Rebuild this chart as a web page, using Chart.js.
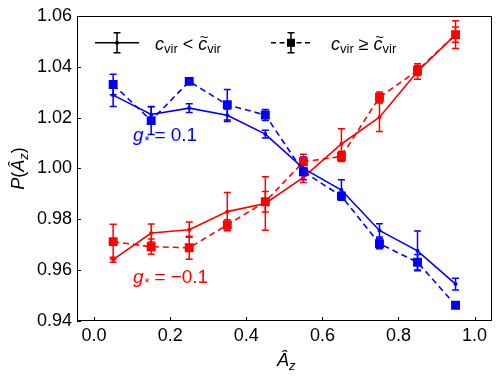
<!DOCTYPE html>
<html>
<head>
<meta charset="utf-8">
<script src="https://cdn.jsdelivr.net/npm/chart.js@4.4.0/dist/chart.umd.min.js"></script>
<style>
  html, body { margin: 0; padding: 0; background: #fff; }
  #wrap { position: relative; width: 498px; height: 376px; }
</style>
</head>
<body>
<div id="wrap"><canvas id="chart"></canvas></div>
<script>
'use strict';

/* Data — P(Az) in bins of Az, for g* = +0.1 (blue) and g* = -0.1 (red) */
const azBins = [0.05, 0.15, 0.25, 0.35, 0.45, 0.55, 0.65, 0.75, 0.85, 0.95];
const xTicks = [0.0, 0.2, 0.4, 0.6, 0.8, 1.0];
const yTicks = [0.94, 0.96, 0.98, 1.00, 1.02, 1.04, 1.06];

// g* = 0.1, c_vir < median
const posLow     = [1.0288, 1.0212, 1.0237, 1.0209, 1.0135, 1.0000, 0.9915, 0.9756, 0.9676, 0.9545];
const posLowErr  = [0.0045, 0.0030, 0.0017, 0.0025, 0.0015, 0.0045, 0.0040, 0.0026, 0.0078, 0.0023];
// g* = 0.1, c_vir >= median
const posHigh    = [1.0330, 1.0188, 1.0342, 1.0250, 1.0210, 0.9987, 0.9891, 0.9704, 0.9631, 0.9462];
const posHighErr = [0.0040, 0.0055, 0.0012, 0.0060, 0.0022, 0.0015, 0.0015, 0.0020, 0.0030, 0.0010];
// g* = -0.1, c_vir < median
const negLow     = [0.9641, 0.9746, 0.9759, 0.9830, 0.9862, 0.9965, 1.0096, 1.0201, 1.0381, 1.0526];
const negLowErr  = [0.0010, 0.0035, 0.0030, 0.0075, 0.0105, 0.0020, 0.0060, 0.0056, 0.0030, 0.0055];
// g* = -0.1, c_vir >= median
const negHigh    = [0.9712, 0.9692, 0.9688, 0.9778, 0.9869, 1.0026, 1.0047, 1.0280, 1.0385, 1.0526];
const negHighErr = [0.0068, 0.0030, 0.0045, 0.0020, 0.0040, 0.0030, 0.0020, 0.0020, 0.0020, 0.0030];

const errs = [posLowErr, posHighErr, negLowErr, negHighErr];

const BLUE = '#0000ff';
const RED  = '#ff0000';
const FAM  = '"Liberation Sans", Arial, sans-serif';
const ROM  = '18px ' + FAM;
const ITA  = 'italic 18px ' + FAM;
const SUB  = '13px ' + FAM;
const SUBI = 'italic 13px ' + FAM;
const ANN  = '19px ' + FAM;
const ANNI = 'italic 19px ' + FAM;

const pts = vals => azBins.map((x, i) => ({ x, y: vals[i] }));

// draw a run of text pieces (for sub/superscripts), returns width
function drawParts(ctx, x, y, parts, color, measureOnly) {
  let cx = x;
  ctx.fillStyle = color;
  ctx.strokeStyle = color;
  ctx.textAlign = 'left';
  ctx.textBaseline = 'alphabetic';
  parts.forEach(p => {
    ctx.font = p.f;
    const w = ctx.measureText(p.t).width;
    if (!measureOnly) {
      ctx.fillText(p.t, cx, y + (p.dy || 0));
      if (p.tilde) {
        ctx.font = '15px ' + FAM;
        ctx.textAlign = 'center';
        ctx.fillText('~', cx + w / 2 + 1.5, y - 8);
        ctx.textAlign = 'left';
      }
    }
    cx += w + (p.sp || 0);
  });
  return cx - x;
}

function errBar(ctx, x, y1, y2, cap) {
  ctx.beginPath();
  ctx.moveTo(x, y1); ctx.lineTo(x, y2);
  ctx.moveTo(x - cap, y1); ctx.lineTo(x + cap, y1);
  ctx.moveTo(x - cap, y2); ctx.lineTo(x + cap, y2);
  ctx.stroke();
}

/* error bars, frame, inward ticks, legend, labels */
const decor = {
  id: 'decor',
  beforeDatasetsDraw(chart) {
    const ctx = chart.ctx, ys = chart.scales.y;
    ctx.save();
    ctx.lineWidth = 1.5;
    chart.data.datasets.forEach((ds, i) => {
      const meta = chart.getDatasetMeta(i);
      ctx.strokeStyle = ds.borderColor;
      meta.data.forEach((el, j) => {
        const v = ds.data[j].y, e = errs[i][j];
        errBar(ctx, el.x, ys.getPixelForValue(v + e), ys.getPixelForValue(v - e), 3.5);
      });
    });
    ctx.restore();
  },
  afterDraw(chart) {
    const ctx = chart.ctx, a = chart.chartArea;
    const xs = chart.scales.x, ys = chart.scales.y;
    ctx.save();

    // frame
    ctx.strokeStyle = '#000';
    ctx.lineWidth = 1;
    ctx.strokeRect(Math.round(a.left) + 0.5, Math.round(a.top) + 0.5,
                   Math.round(a.right - a.left) - 1, Math.round(a.bottom - a.top) - 1);

    // ticks pointing inward
    ctx.beginPath();
    xTicks.forEach(v => {
      const px = Math.round(xs.getPixelForValue(v)) + 0.5;
      ctx.moveTo(px, a.bottom); ctx.lineTo(px, a.bottom - 4);
    });
    yTicks.forEach(v => {
      const py = Math.round(ys.getPixelForValue(v)) + 0.5;
      ctx.moveTo(a.left, py); ctx.lineTo(a.left + 4, py);
    });
    ctx.stroke();

    // legend
    ctx.lineWidth = 1.5;
    ctx.strokeStyle = '#000';
    ctx.fillStyle = '#000';
    const ly = a.top + 27;
    ctx.beginPath(); ctx.moveTo(95, ly); ctx.lineTo(139, ly); ctx.stroke();
    errBar(ctx, 117, ly - 10, ly + 10, 3.5);
    ctx.beginPath(); ctx.arc(117, ly, 2, 0, Math.PI * 2); ctx.fill();
    drawParts(ctx, 155, ly + 7, [
      { t: 'c', f: ITA }, { t: 'vir', f: SUB, dy: 3, sp: 5 },
      { t: '<', f: ROM, sp: 5 },
      { t: 'c', f: ITA, tilde: true }, { t: 'vir', f: SUB, dy: 3 },
    ], '#000');

    ctx.setLineDash([5, 3.5]);
    ctx.beginPath(); ctx.moveTo(271, ly); ctx.lineTo(312, ly); ctx.stroke();
    ctx.setLineDash([]);
    errBar(ctx, 291, ly - 10, ly + 10, 3.5);
    ctx.fillRect(291 - 4, ly - 4, 8, 8);
    drawParts(ctx, 331, ly + 7, [
      { t: 'c', f: ITA }, { t: 'vir', f: SUB, dy: 3, sp: 5 },
      { t: '≥', f: ROM, sp: 5 },
      { t: 'c', f: ITA, tilde: true }, { t: 'vir', f: SUB, dy: 3 },
    ], '#000');

    // g* annotations
    const gx = xs.getPixelForValue(0.102);
    drawParts(ctx, gx, ys.getPixelForValue(1.0108), [
      { t: 'g', f: ANNI, sp: 1 }, { t: '*', f: SUB, dy: 4, sp: 5 },
      { t: '=', f: ANN, sp: 5 }, { t: '0.1', f: ANN },
    ], BLUE);
    drawParts(ctx, gx, ys.getPixelForValue(0.9551), [
      { t: 'g', f: ANNI, sp: 1 }, { t: '*', f: SUB, dy: 4, sp: 5 },
      { t: '=', f: ANN, sp: 5 }, { t: '\u22120.1', f: ANN },
    ], RED);

    // axis titles
    const xl = [{ t: 'Â', f: ITA }, { t: 'z', f: SUBI, dy: 4 }];
    const xw = drawParts(ctx, 0, 0, xl, '#000', true);
    drawParts(ctx, (a.left + a.right) / 2 - xw / 2 + 2, 366, xl, '#000');

    const yl = [{ t: 'P', f: ITA }, { t: '(', f: ROM }, { t: 'Â', f: ITA },
                { t: 'z', f: SUBI, dy: 4 }, { t: ')', f: ROM }];
    const yw = drawParts(ctx, 0, 0, yl, '#000', true);
    ctx.translate(24, (a.top + a.bottom) / 2);
    ctx.rotate(-Math.PI / 2);
    drawParts(ctx, -yw / 2, 0, yl, '#000');
    ctx.restore();
  },
};

const lineDs = (label, vals, color, dashed) => ({
  label,
  data: pts(vals),
  borderColor: color,
  backgroundColor: color,
  borderWidth: 1.6,
  borderDash: dashed ? [6, 4] : [],
  pointStyle: dashed ? 'rect' : 'circle',
  pointRadius: dashed ? 6.3 : 2,
  pointBorderWidth: 0,
  pointBackgroundColor: color,
  tension: 0,
  fill: false,
});

const chart = new Chart(document.getElementById('chart').getContext('2d'), {
  type: 'line',
  data: {
    datasets: [
      lineDs('g*=0.1, cvir < median', posLow, BLUE, false),
      lineDs('g*=0.1, cvir >= median', posHigh, BLUE, true),
      lineDs('g*=-0.1, cvir < median', negLow, RED, false),
      lineDs('g*=-0.1, cvir >= median', negHigh, RED, true),
    ],
  },
  options: {
    responsive: true,
    maintainAspectRatio: false,
    animation: false,
    devicePixelRatio: 1,
    layout: { padding: { left: 0, right: 3, top: 9, bottom: 0 } },
    plugins: { legend: { display: false }, tooltip: { enabled: false } },
    scales: {
      x: {
        type: 'linear',
        min: -0.045, max: 1.045,
        afterBuildTicks: s => { s.ticks = xTicks.map(v => ({ value: v })); },
        afterFit: s => { s.height = 55; },
        grid: { display: false, drawTicks: false },
        border: { display: false },
        ticks: { color: '#000', font: { family: FAM, size: 18 }, padding: 4, maxRotation: 0,
                 callback: v => v.toFixed(1) },
      },
      y: {
        min: 0.94, max: 1.06,
        afterBuildTicks: s => { s.ticks = yTicks.map(v => ({ value: v })); },
        afterFit: s => { s.width = 77; },
        grid: { display: false, drawTicks: false },
        border: { display: false },
        ticks: { color: '#000', font: { family: FAM, size: 18 }, padding: 5,
                 callback: v => v.toFixed(2) },
      },
    },
  },
  plugins: [decor],
});
</script>
</body>
</html>
